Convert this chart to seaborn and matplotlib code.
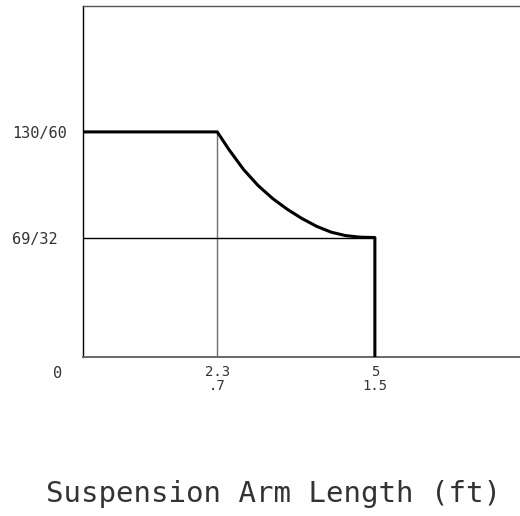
import matplotlib
matplotlib.use("Agg")
import matplotlib.pyplot as plt
import seaborn as sns
import pandas as pd

# Capacity curve (arm length in ft vs load)
arm_length = [0, 2.3, 2.5, 2.75, 3.0, 3.25, 3.5, 3.75, 4.0, 4.25, 4.5, 4.75, 5.0, 5.0]
capacity = [130, 130, 119.8, 108.3, 99.0, 91.5, 85.3, 80.0, 75.5, 72.1, 70.1, 69.2, 69, 0]

x_ticks = [2.3, 5]
x_tick_labels = ["2.3\n.7", "5\n1.5"]
y_ticks = [69, 130]
y_tick_labels = ["69/32", "130/60"]
origin_label = "0"
x_title = "Suspension Arm Length (ft)"

sns.set_style("white")
plt.rcParams['font.family'] = ['DejaVu Sans Mono', 'DejaVu Sans']

fig = plt.figure(figsize=(5.2, 5.16), dpi=100)
# axes runs off the right edge, like the source drawing
ax = fig.add_axes([83 / 520, 159 / 516, 467 / 520, 351.5 / 516])

df = pd.DataFrame({"length": arm_length, "load": capacity})

# thin guide lines at the knee and at the end load
knee_x, knee_y = arm_length[1], capacity[1]
end_x, end_y = arm_length[-2], capacity[-2]
ax.plot([knee_x, knee_x], [0, knee_y], color="#707070", lw=1.0, zorder=1)
ax.plot([0, end_x], [end_y, end_y], color="black", lw=1.0, zorder=1)

sns.lineplot(data=df, x="length", y="load", sort=False, estimator=None,
             color="black", lw=2.2, ax=ax, zorder=3)

ax.set_xlim(0, 8)
ax.set_ylim(0, 203)

for side in ["left", "bottom", "top", "right"]:
    ax.spines[side].set_linewidth(1.0)
ax.spines["left"].set_color("black")
ax.spines["bottom"].set_color("#666666")
ax.spines["bottom"].set_linewidth(1.4)
ax.spines["top"].set_color("#555555")

ax.set_xticks(x_ticks)
ax.set_xticklabels(x_tick_labels, fontsize=10, linespacing=0.95)
ax.set_yticks(y_ticks)
ax.set_yticklabels(y_tick_labels, fontsize=11)
for lab in ax.get_yticklabels():
    lab.set_horizontalalignment("left")
ax.tick_params(axis="x", length=0, pad=6, colors="#333333")
ax.tick_params(axis="y", length=0, pad=51, colors="#333333")
ax.set_xlabel("")
ax.set_ylabel("")

ax.annotate(origin_label, xy=(0, 0), xytext=(-18, -12), textcoords="offset points",
            ha="center", va="center", fontsize=11, color="#333333",
            annotation_clip=False)

fig.text(46 / 520, 1 - 494 / 516, x_title, ha="left", va="center",
         fontsize=21, color="#333333")

fig.savefig("out.png", dpi=100)
